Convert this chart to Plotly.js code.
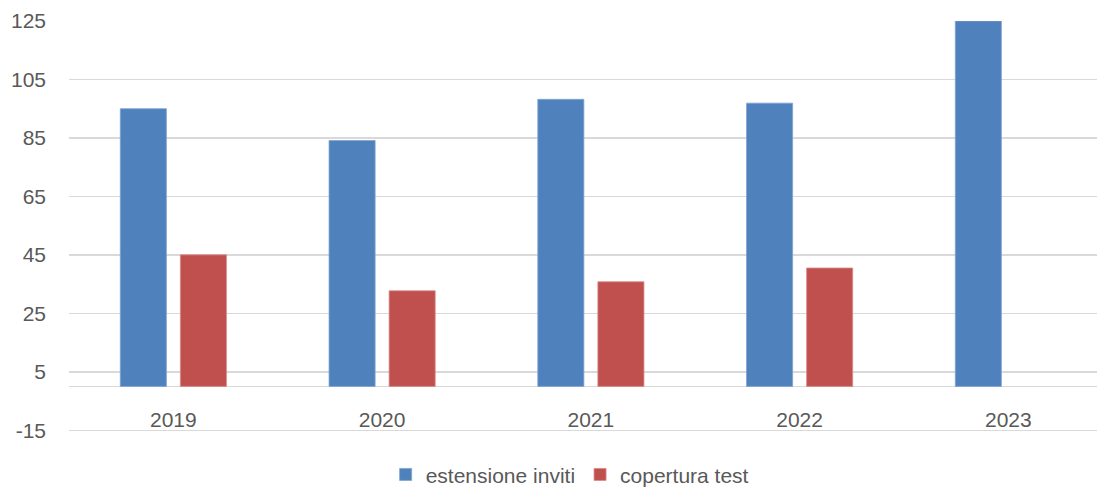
<!DOCTYPE html>
<html>
<head>
<meta charset="utf-8">
<script src="https://cdn.plot.ly/plotly-3.0.1.min.js"></script>
<style>html,body{margin:0;padding:0;background:#fff;}#chart{width:1097px;height:492px;}</style>
</head>
<body>
<div id="chart"></div>
<script>
var categories = ["2019", "2020", "2021", "2022", "2023"];
var estensioneInviti = [95, 84.1, 98.2, 96.9, 125];
var coperturaTest = [45, 32.7, 35.8, 40.5, null];
var seriesNames = ["estensione inviti", "copertura test"];
var yTicks = [-15, 5, 25, 45, 65, 85, 105, 125];

var font = "Liberation Sans, Arial, sans-serif";
var grid = "#d9d9d9";

var traces = [
  {type: "bar", name: seriesNames[0], x: categories, y: estensioneInviti,
   marker: {color: "#4F81BD", line: {color: "#7FA3D0", width: 0.8}}, hoverinfo: "x+y"},
  {type: "bar", name: seriesNames[1], x: categories, y: coperturaTest,
   marker: {color: "#C0504D", line: {color: "#D88A88", width: 0.8}}, hoverinfo: "x+y"}
];

var layout = {
  width: 1097, height: 492,
  margin: {l: 69, r: 0, t: 21, b: 60, autoexpand: false},
  paper_bgcolor: "#fff", plot_bgcolor: "#fff",
  barmode: "group", bargap: 0.4245, bargroupgap: 0.233,
  font: {family: font, size: 21, color: "#595959"},
  showlegend: true,
  legend: {orientation: "h", x: 0.487, xanchor: "center", yref: "container", y: 0.035, yanchor: "middle",
           font: {family: font, size: 21, color: "#595959"}, itemwidth: 30, tracegroupgap: 0},
  xaxis: {type: "category", range: [-0.5, 4.4246], anchor: "free", position: 0.1074,
          showline: false, showgrid: false, zeroline: false, ticks: "", automargin: false,
          tickfont: {family: font, size: 21, color: "#595959"}, ticklabelstandoff: 17},
  yaxis: {range: [-15.6, 125], tickmode: "array", tickvals: yTicks, ticktext: yTicks.map(String),
          showgrid: true, gridcolor: grid, gridwidth: 1.5, zeroline: true, zerolinecolor: grid,
          zerolinewidth: 1.5, showline: false, ticks: "", ticklabelstandoff: 22, automargin: false,
          tickfont: {family: font, size: 21, color: "#595959"}}
};

Plotly.newPlot("chart", traces, layout, {displayModeBar: false, staticPlot: true});
</script>
</body>
</html>
